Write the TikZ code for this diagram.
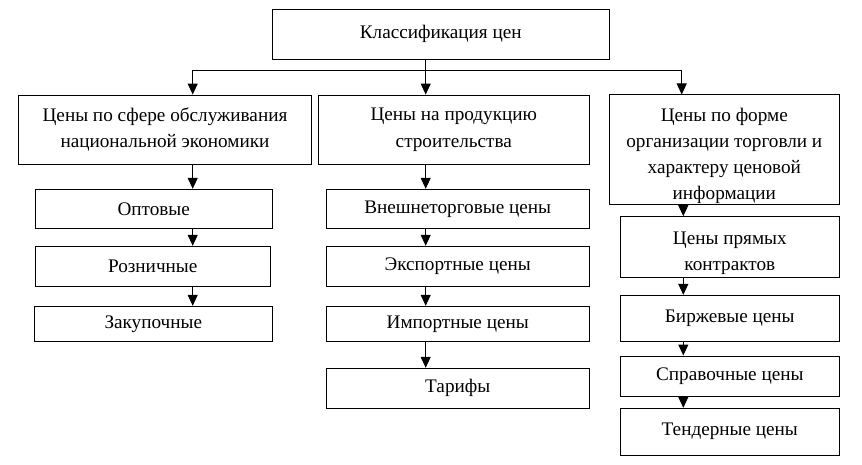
\documentclass[tikz,border=0pt]{standalone}
\usepackage{fontspec}
\setmainfont{Liberation Serif}
\usetikzlibrary{arrows.meta}
\begin{document}
\begin{tikzpicture}[x=1pt,y=-1pt,
  box/.style={draw,line width=1pt,inner sep=0pt,align=center,font=\fontsize{19.2}{26.5}\selectfont},
  txt/.style={inner sep=0pt,align=center,font=\fontsize{19.2}{26}\selectfont},
  arr/.style={line width=1pt,-{Triangle[length=11pt,width=10pt]}},
  ln/.style={line width=1pt}]
\useasboundingbox[fill=white] (0,0) rectangle (862,465);
\node[box,minimum width=337pt,minimum height=50pt] (top) at (440.8,34.3) {Классификация цен};
\node[box,minimum width=293.4pt,minimum height=69.3pt] (l1) at (165,129.7) {Цены по сфере обслуживания\\национальной экономики};
\node[box,minimum width=271pt,minimum height=69.3pt] (m1) at (453.8,129.7) {Цены на продукцию\\строительства};
\node[box,minimum width=230pt,minimum height=110pt] (r1) at (724.3,150) {};
\node[txt] (r1t) at (724.3,156) {Цены по форме\\организации торговли и\\характеру ценовой\\информации};
\node[box,minimum width=237.3pt,minimum height=39pt] (l2) at (153.7,208.8) {Оптовые};
\node[box,minimum width=235.3pt,minimum height=40pt] (l3) at (152.7,266.3) {Розничные};
\node[box,minimum width=238pt,minimum height=35pt] (l4) at (153.3,323.8) {Закупочные};
\node[box,minimum width=263.3pt,minimum height=39pt] (m2) at (457.7,208.8) {Внешнеторговые цены};
\node[box,minimum width=263.3pt,minimum height=40pt] (m3) at (457.7,266.3) {Экспортные цены};
\node[box,minimum width=263.3pt,minimum height=35pt] (m4) at (457.7,323.8) {Импортные цены};
\node[box,minimum width=263.3pt,minimum height=40pt] (m5) at (457.7,388.3) {Тарифы};
\node[box,minimum width=219pt,minimum height=60.6pt] (r2) at (729.8,247) {};
\node[txt] (r2t) at (729.8,253.5) {Цены прямых\\контрактов};
\node[box,minimum width=219pt,minimum height=45.7pt] (r3) at (729.8,318.2) {Биржевые цены};
\node[box,minimum width=219pt,minimum height=40pt] (r4) at (729.8,376) {Справочные цены};
\node[box,minimum width=219pt,minimum height=46.7pt] (r5) at (729.8,431.7) {Тендерные цены};
\coordinate (lx) at (192.7,70.3);
\coordinate (mx) at (425.7,70.3);
\coordinate (rx) at (681.7,70.3);
\coordinate (rx2) at (683.3,0);
\draw[ln] (lx) -- (rx);
\draw[arr] (top.south -| mx) -- (m1.north -| mx);
\draw[arr] (lx) -- (l1.north -| lx);
\draw[arr] (rx) -- (r1.north -| rx);
\draw[arr] (l1.south -| lx) -- (l2.north -| lx);
\draw[arr] (l2.south -| lx) -- (l3.north -| lx);
\draw[arr] (l3.south -| lx) -- (l4.north -| lx);
\draw[arr] (m1.south -| mx) -- (m2.north -| mx);
\draw[arr] (m2.south -| mx) -- (m3.north -| mx);
\draw[arr] (m3.south -| mx) -- (m4.north -| mx);
\draw[arr] (m4.south -| mx) -- (m5.north -| mx);
\draw[arr] (r1.south -| rx2) -- (r2.north -| rx2);
\draw[arr] (r2.south -| rx2) -- (r3.north -| rx2);
\draw[arr] (r3.south -| rx2) -- (r4.north -| rx2);
\draw[arr] (r4.south -| rx2) -- (r5.north -| rx2);
\end{tikzpicture}
\end{document}
